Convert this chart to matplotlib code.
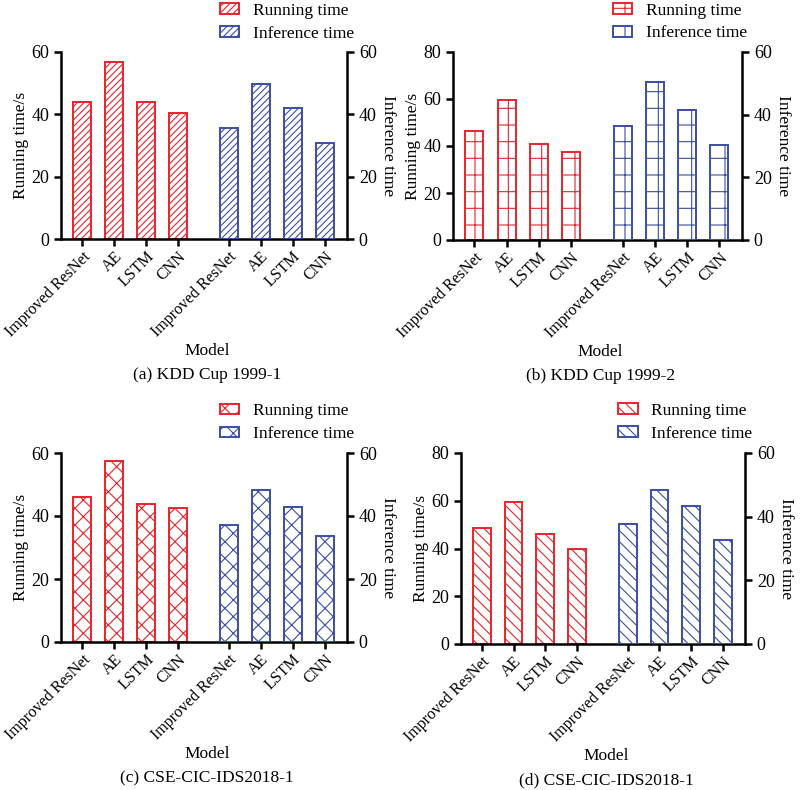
import numpy as np
import matplotlib.pyplot as plt
from matplotlib.patches import Patch

plt.rcParams['font.family'] = ['Liberation Serif', 'DejaVu Serif']
plt.rcParams['hatch.linewidth'] = 0.8

models = ["Improved ResNet", "AE", "LSTM", "CNN"]

# running time (left axis) and inference time (right axis) per panel
run_a = [44.0, 56.7, 43.8, 40.4]
inf_a = [35.7, 49.6, 42.1, 30.7]
run_b = [46.2, 59.4, 40.9, 37.4]
inf_b = [36.5, 50.3, 41.6, 30.2]
run_c = [46.0, 57.6, 43.7, 42.6]
inf_c = [37.1, 48.1, 42.7, 33.6]
run_d = [48.4, 59.6, 46.0, 39.6]
inf_d = [37.6, 48.5, 43.2, 32.8]

captions = ["(a) KDD Cup 1999-1", "(b) KDD Cup 1999-2",
            "(c) CSE-CIC-IDS2018-1", "(d) CSE-CIC-IDS2018-1"]
left_max = [60, 80, 60, 80]
hatches = ["/////", "+", "xx", "\\\\\\"]

RED = "#e8242c"
BLUE = "#3b4ea5"

fig = plt.figure(figsize=(8, 7.9), dpi=100)

# axes boxes in pixels: left, right, top, bottom
boxes = [(61, 347, 52, 239), (453, 742, 52, 240),
         (61, 347, 453, 642), (461, 745, 453, 644)]

panels = [(run_a, inf_a), (run_b, inf_b), (run_c, inf_c), (run_d, inf_d)]

x_red = np.arange(4)
x_blue = np.arange(4) + 4.6
width = 0.56

for i, (run, inf) in enumerate(panels):
    l, r, t, b = boxes[i]
    ax = fig.add_axes([l / 800, (790 - b) / 790, (r - l) / 800, (b - t) / 790])
    ax2 = ax.twinx()

    ax.bar(x_red, run, width, facecolor="white", edgecolor=RED,
           hatch=hatches[i], linewidth=1.4)
    ax2.bar(x_blue, inf, width, facecolor="white", edgecolor=BLUE,
            hatch=hatches[i], linewidth=1.4)

    ax.set_xlim(-0.66, 8.3)
    ax.set_ylim(0, left_max[i])
    ax2.set_ylim(0, 60)
    ax.set_yticks(np.arange(0, left_max[i] + 1, 20))
    ax2.set_yticks(np.arange(0, 61, 20))

    ax.set_xticks(np.concatenate([x_red, x_blue]))
    ax.set_xticklabels(models + models, rotation=45, ha="right",
                       rotation_mode="anchor", fontsize=11.5)

    for a in (ax, ax2):
        a.spines["top"].set_visible(False)
        for s in ("left", "right", "bottom"):
            a.spines[s].set_linewidth(1.8)
        a.tick_params(width=1.8, length=5, labelsize=13)
    ax.tick_params(axis="x", labelsize=11.5, pad=2)
    ax.spines["right"].set_visible(False)
    ax2.spines["left"].set_visible(False)
    ax2.spines["bottom"].set_visible(False)

    ax.set_ylabel("Running time/s", fontsize=12.5, labelpad=2)
    ax2.set_ylabel("Inference time", fontsize=12.5, rotation=270, labelpad=14)

    handles = [Patch(facecolor="white", edgecolor=RED, hatch=hatches[i], linewidth=1.4),
               Patch(facecolor="white", edgecolor=BLUE, hatch=hatches[i], linewidth=1.4)]
    ax.legend(handles, ["Running time", "Inference time"], loc="upper left",
              bbox_to_anchor=(0.53, 1.30), frameon=False, fontsize=12.5,
              handlelength=1.1, handleheight=0.55, labelspacing=0.4,
              handletextpad=0.8, borderaxespad=0)

    cx = (l + r) / 2 / 800 + 0.004
    fig.text(cx, (790 - (b + 112)) / 790, "Model", ha="center", va="center", fontsize=12.5)
    fig.text(cx, (790 - (b + 136)) / 790, captions[i], ha="center", va="center", fontsize=12.5)

fig.savefig("out.png", dpi=100)
